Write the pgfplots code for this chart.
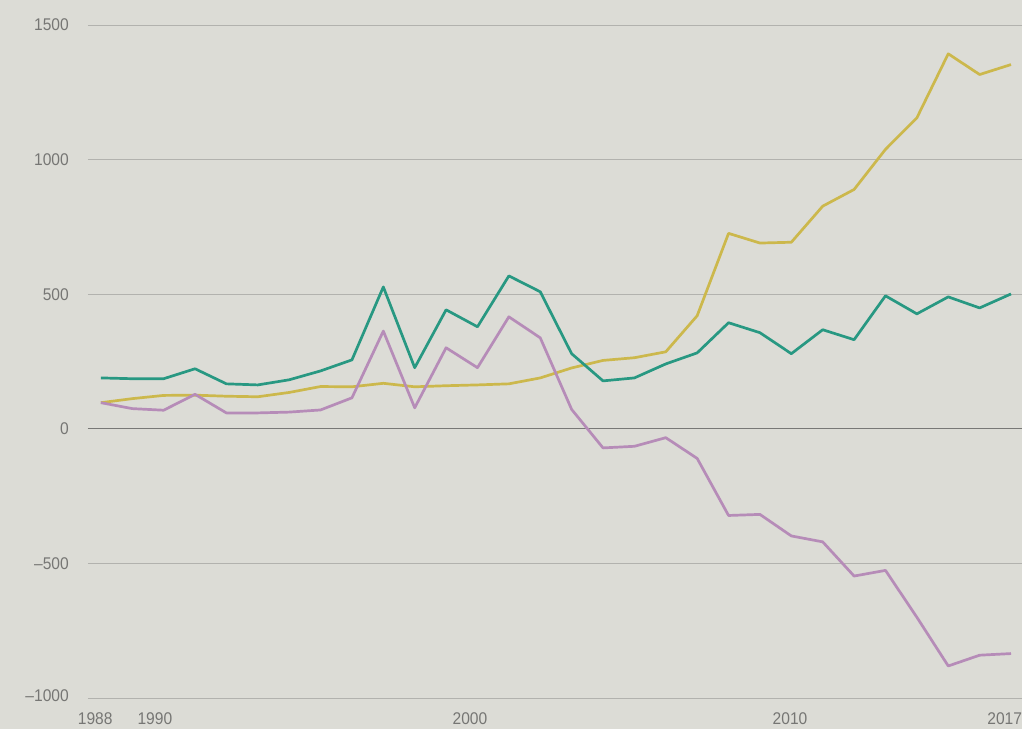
\documentclass[border=0pt]{standalone}
\usepackage{fontspec}
\setmainfont{Liberation Sans}[FakeStretch=0.92]
\usepackage{pgfplots}
\pgfplotsset{compat=1.18}
\definecolor{paper}{RGB}{220,220,214}
\definecolor{gridc}{RGB}{178,178,174}
\definecolor{zeroc}{RGB}{120,120,118}
\definecolor{txt}{RGB}{118,118,116}
\definecolor{teal}{RGB}{40,152,130}
\definecolor{mustard}{RGB}{204,184,76}
\definecolor{mauve}{RGB}{182,140,184}
\begin{document}
\begin{tikzpicture}
\useasboundingbox[fill=paper] (-88bp,-31bp) rectangle (934bp,698bp);
\begin{axis}[
  scale only axis, width=934bp, height=673bp,
  at={(0,0)}, anchor=south west,
  xmin=1987.59, xmax=2017.35, ymin=-1000, ymax=1500,
  axis line style={draw=none},
  major tick length=0pt,
  ytick={-1000,-500,0,500,1000,1500},
  yticklabels={\raisebox{5bp}{\textendash1000},\textendash500,0,500,1000,1500},
  ymajorgrids, grid style={gridc, line width=0.8bp},
  xtick={1987.82,1989.72,1999.76,2009.96,2016.8},
  xticklabels={1988,1990,2000,2010,2017},
  tick label style={font=\fontsize{17}{17}\selectfont, text=txt, inner sep=0pt},
  yticklabel style={anchor=east, xshift=-19bp},
  xticklabel style={anchor=north, yshift=-14bp},
  /pgf/number format/assume math mode=true,
  clip=false,
]
\draw[zeroc, line width=1bp] (axis cs:1987.59,0) -- (axis cs:2017.35,0);
\addplot[mustard, line width=2.7bp, line join=round] coordinates {
(1988,97)(1989,112)(1990,124)(1991,125)(1992,121)(1993,119)(1994,135)(1995,157)
(1996,156)(1997,169)(1998,156)(1999,160)(2000,163)(2001,167)(2002,189)(2003,226)
(2004,254)(2005,264)(2006,286)(2007,420)(2008,726)(2009,690)(2010,693)(2011,827)
(2012,889)(2013,1038)(2014,1155)(2015,1393)(2016,1316)(2017,1353)};
\addplot[mauve, line width=2.7bp, line join=round] coordinates {
(1988,97)(1989,75)(1990,69)(1991,128)(1992,59)(1993,59)(1994,62)(1995,70)
(1996,115)(1997,363)(1998,78)(1999,301)(2000,227)(2001,416)(2002,338)(2003,72)
(2004,-71)(2005,-65)(2006,-33)(2007,-110)(2008,-322)(2009,-318)(2010,-398)(2011,-420)
(2012,-547)(2013,-526)(2014,-700)(2015,-881)(2016,-841)(2017,-835)};
\addplot[teal, line width=2.7bp, line join=round] coordinates {
(1988,189)(1989,186)(1990,186)(1991,223)(1992,167)(1993,163)(1994,182)(1995,215)
(1996,256)(1997,527)(1998,227)(1999,442)(2000,379)(2001,568)(2002,509)(2003,279)
(2004,178)(2005,189)(2006,241)(2007,282)(2008,394)(2009,357)(2010,279)(2011,368)
(2012,331)(2013,494)(2014,427)(2015,490)(2016,449)(2017,501)};
\end{axis}
\end{tikzpicture}
\end{document}
